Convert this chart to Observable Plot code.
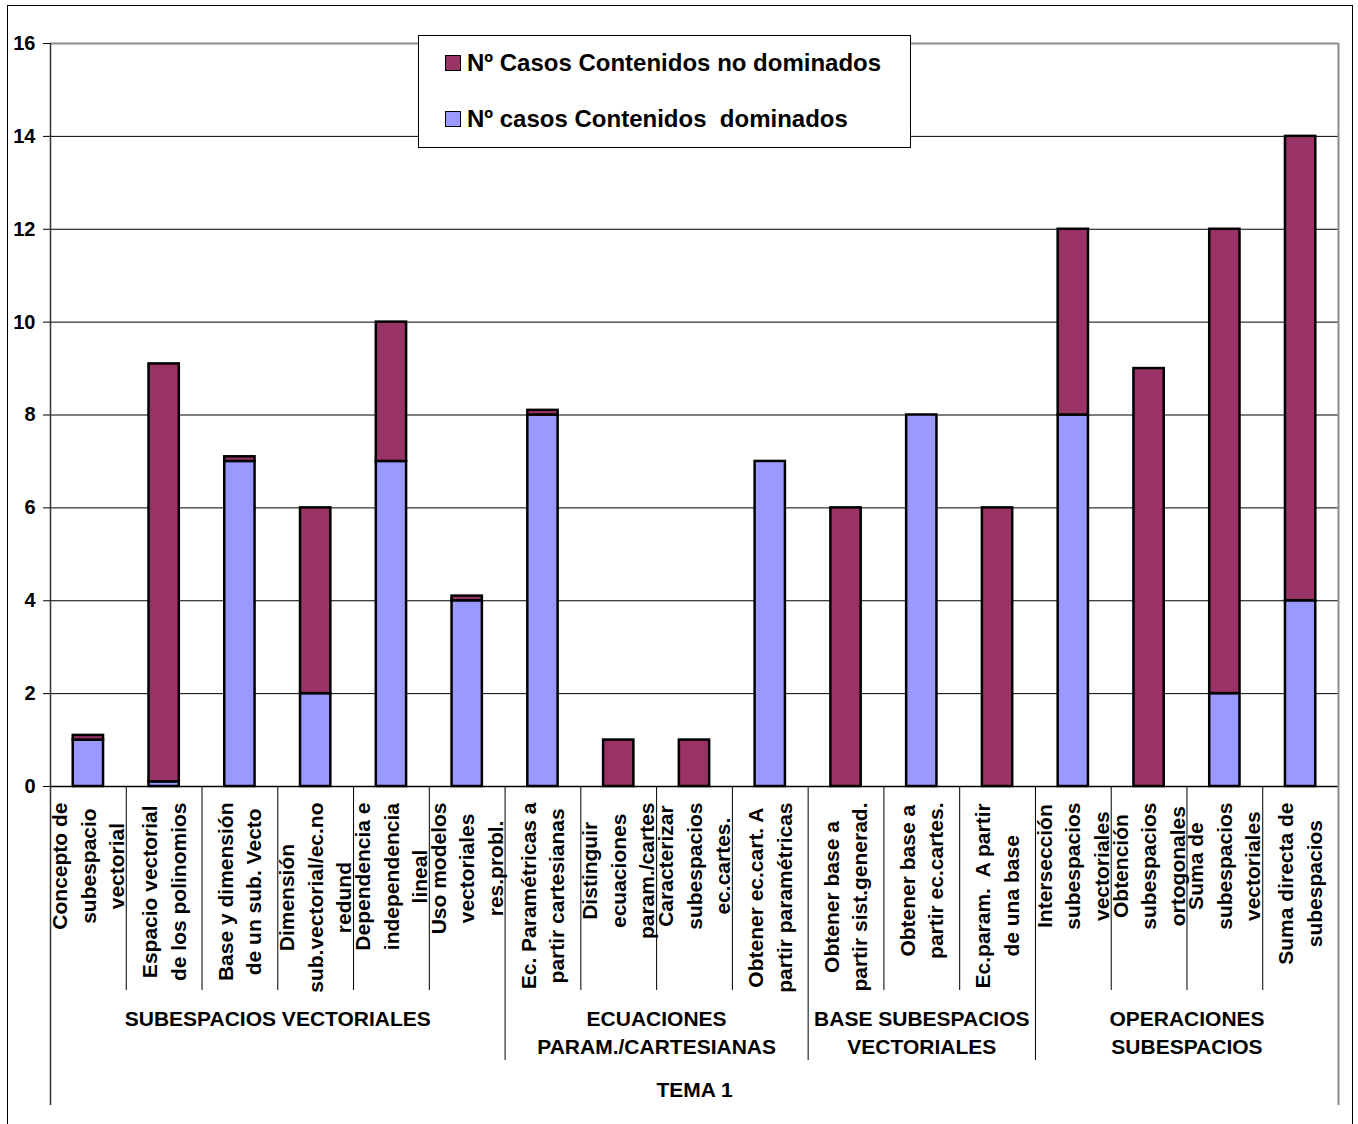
<!DOCTYPE html>
<html>
<head>
<meta charset="utf-8">
<script src="https://cdn.jsdelivr.net/npm/d3@7"></script>
<script src="https://cdn.jsdelivr.net/npm/@observablehq/plot@0.6"></script>
<style>
  html, body { margin: 0; padding: 0; background: #fff; overflow: hidden; }
  #wrap { position: relative; width: 1358px; height: 1124px; font-family: "Liberation Sans", Arial, sans-serif; }
  #border { position: absolute; left: 7px; top: 5px; width: 1346px; height: 1130px; border: 1.5px solid #000; box-sizing: border-box; pointer-events: none; }
  #legend { position: absolute; left: 418px; top: 35px; width: 493px; height: 113px; box-sizing: border-box; border: 1.5px solid #000; background: #fff; font-weight: bold; font-size: 24px; color: #000; }
  .item { position: absolute; left: 26px; display: flex; align-items: center; white-space: pre; }
  .sw { width: 14px; height: 14px; border: 1.5px solid #000; margin-right: 6px; }
</style>
</head>
<body>
<div id="wrap">
  <div id="chart"></div>
  <div id="border"></div>
  <div id="legend"></div>
</div>
<script>
// ---- data ----
const categoryLines = [
  ["Concepto de", "subespacio", "vectorial"],
  ["Espacio vectorial", "de los polinomios"],
  ["Base y dimensión", "de un sub. Vecto"],
  ["Dimensión", "sub.vectorial/ec.no", "redund"],
  ["Dependencia e", "independencia", "lineal"],
  ["Uso modelos", "vectoriales", "res.probl."],
  ["Ec. Paramétricas a", "partir cartesianas"],
  ["Distinguir", "ecuaciones", "param./cartes"],
  ["Caracterizar", "subespacios", "ec.cartes."],
  ["Obtener ec.cart. A", "partir paramétricas"],
  ["Obtener base a", "partir sist.generad."],
  ["Obtener base a", "partir ec.cartes."],
  ["Ec.param.  A partir", "de una base"],
  ["Intersección", "subespacios", "vectoriales"],
  ["Obtención", "subespacios", "ortogonales"],
  ["Suma de", "subespacios", "vectoriales"],
  ["Suma directa de", "subespacios"]
];
const categories = categoryLines.map((l, i) => String(i + 1).padStart(2, "0") + " " + l.join(" "));
const dominados =    [1, 0.1, 7, 2, 7, 4, 8, 0, 0, 7, 0, 8, 0, 8, 0, 2, 4];
const noDominados =  [0.1, 9, 0.1, 4, 3, 0.1, 0.1, 1, 1, 0, 6, 0, 6, 4, 9, 10, 10];
const seriesNames = ["Nº casos Contenidos  dominados", "Nº Casos Contenidos no dominados"];
const seriesColors = ["#9999FF", "#993366"];
const groupNames = ["SUBESPACIOS VECTORIALES", "ECUACIONES\nPARAM./CARTESIANAS", "BASE SUBESPACIOS\nVECTORIALES", "OPERACIONES\nSUBESPACIOS"];
const groupSizes = [6, 4, 3, 4];
const superGroup = "TEMA 1";
const yTicks = [0, 2, 4, 6, 8, 10, 12, 14, 16];

// ---- layout ----
const W = 1358, H = 1124;
const mt = 43, mb = 338, ml = 50, mr = 20;
const step = (W - ml - mr) / categories.length;
const ppu = (H - mt - mb) / 16;
const font = '"Liberation Sans", Arial, sans-serif';
const catFont = 21, catLine = 28.5;

const rows = [];
categories.forEach((c, i) => {
  if (dominados[i] > 0) rows.push({cat: c, series: seriesNames[0], value: dominados[i]});
  if (noDominados[i] > 0) rows.push({cat: c, series: seriesNames[1], value: noDominados[i]});
});

// measure text lengths for label centering
const ctx = document.createElement("canvas").getContext("2d");
ctx.font = `bold ${catFont}px ${font}`;
const measure = s => ctx.measureText(s).width;

// boundaries
const groupStartIdx = [];
{ let s = 0; for (const n of groupSizes) { groupStartIdx.push(s); s += n; } }
const innerSeps = categories.map((c, i) => i).filter(i => i > 0 && !groupStartIdx.includes(i));
const groupSeps = groupStartIdx.filter(i => i > 0);

const marks = [];
// grid lines
marks.push(Plot.ruleY(yTicks.filter(d => d > 0 && d < 16), {stroke: "#000", strokeWidth: 1}));
marks.push(Plot.ruleY([16], {stroke: "#8c8c8c", strokeWidth: 2}));
// stacked bars
marks.push(Plot.barY(rows, Plot.stackY({x: "cat", y: "value", fill: "series", stroke: "#000", strokeWidth: 2.5})));
// baseline
marks.push(Plot.ruleY([0], {stroke: "#000", strokeWidth: 1.5}));
// category separators
marks.push(Plot.ruleX(innerSeps.map(i => categories[i]), {x: d => d, y1: 0, y2: -204 / ppu, dx: -step / 2, stroke: "#000", strokeWidth: 1}));
marks.push(Plot.ruleX(groupSeps.map(i => categories[i]), {x: d => d, y1: 0, y2: -274 / ppu, dx: -step / 2, stroke: "#000", strokeWidth: 1}));
// outer left / right lines
marks.push(Plot.ruleX([categories[0]], {x: d => d, y1: 16, y2: -319 / ppu, dx: -step / 2, stroke: "#333", strokeWidth: 1.5}));
marks.push(Plot.ruleX([categories[categories.length - 1]], {x: d => d, y1: 16, y2: -319 / ppu, dx: step / 2, stroke: "#8c8c8c", strokeWidth: 2}));
// category labels (rotated, lines centered)
categoryLines.forEach((lines, i) => {
  const maxLen = d3.max(lines, measure);
  marks.push(Plot.text([categories[i]], {
    x: d => d, text: () => lines.join("\n"), frameAnchor: "bottom",
    rotate: -90, textAnchor: "middle", lineAnchor: "middle", lineHeight: catLine / catFont,
    dx: -2, dy: 16 + maxLen / 2, fontSize: catFont, fontWeight: "bold", fontFamily: font, fill: "#000"
  }));
});
// group labels
groupNames.forEach((g, k) => {
  marks.push(Plot.text([categories[groupStartIdx[k]]], {
    x: d => d, text: () => g, frameAnchor: "bottom", textAnchor: "middle", lineAnchor: "top",
    lineHeight: 28 / 21, dx: (groupSizes[k] - 1) * step / 2, dy: 220,
    fontSize: 21, fontWeight: "bold", fontFamily: font, fill: "#000"
  }));
});
marks.push(Plot.text([superGroup], {
  text: d => d, frameAnchor: "bottom", textAnchor: "middle", lineAnchor: "top", dy: 296,
  fontSize: 21, fontWeight: "bold", fontFamily: font, fill: "#000"
}));

const chart = Plot.plot({
  width: W, height: H,
  marginTop: mt, marginBottom: mb, marginLeft: ml, marginRight: mr,
  style: {fontFamily: font, fontSize: "20px", fontWeight: "bold", color: "#000", background: "transparent", overflow: "visible"},
  x: {domain: categories, paddingInner: 0.6, paddingOuter: 0.3, round: false, axis: null},
  y: {domain: [0, 16], ticks: yTicks, tickSize: 7, tickPadding: 8, tickFormat: d => String(d), label: null},
  color: {domain: seriesNames, range: seriesColors},
  marks
});
document.getElementById("chart").appendChild(chart);

// legend (top series first, as in the reference)
const legend = d3.select("#legend");
[1, 0].forEach((s, r) => {
  const it = legend.append("div").attr("class", "item").style("top", (r === 0 ? 13 : 69) + "px");
  it.append("div").attr("class", "sw").style("background", seriesColors[s]);
  it.append("span").text(seriesNames[s]);
});
</script>
</body>
</html>
